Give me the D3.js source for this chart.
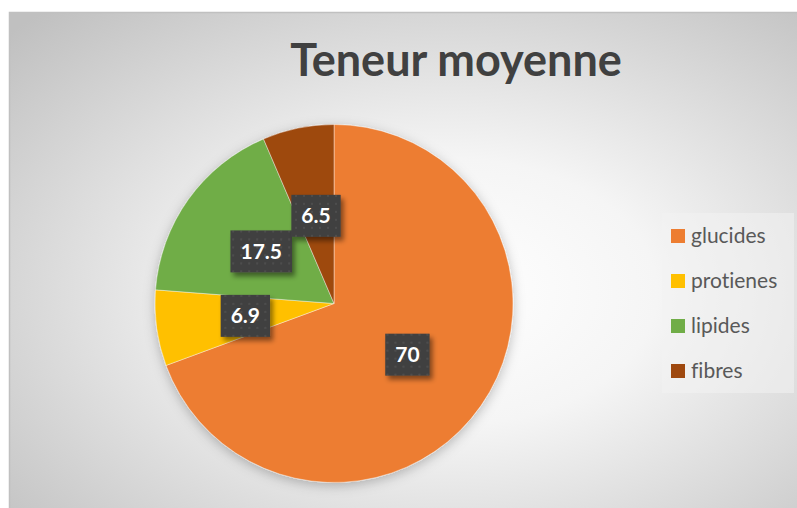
<!DOCTYPE html>
<html>
<head>
<meta charset="utf-8">
<script src="https://cdn.jsdelivr.net/npm/d3@7"></script>
<style>
  html, body { margin: 0; padding: 0; background: #fff; }
  svg { display: block; font-family: Lato, "Open Sans", sans-serif; font-variant-ligatures: none; }
</style>
</head>
<body>
<svg id="chart" width="797" height="508"></svg>
<script>
// chart data
const categories = ["glucides", "protienes", "lipides", "fibres"];
const values = [70, 6.9, 17.5, 6.5];
const colors = ["#ED7D31", "#FFC000", "#70AD47", "#9E480E"];
const title = "Teneur moyenne";

const svg = d3.select("#chart");
const width = 797, height = 508;
const cx = 334, cy = 303.5, radius = 179;

const defs = svg.append("defs");

// background radial gradient
const bg = defs.append("radialGradient")
  .attr("id", "bgGrad")
  .attr("cx", "55%").attr("cy", "55%").attr("r", "75%");
bg.append("stop").attr("offset", "0%").attr("stop-color", "#ffffff");
bg.append("stop").attr("offset", "35%").attr("stop-color", "#f5f5f5");
bg.append("stop").attr("offset", "100%").attr("stop-color", "#c0c0c0");

// pie shadow
const pieShadow = defs.append("filter").attr("id", "pieShadow")
  .attr("x", "-20%").attr("y", "-20%").attr("width", "140%").attr("height", "140%");
pieShadow.append("feDropShadow")
  .attr("dx", 0).attr("dy", 3).attr("stdDeviation", 6)
  .attr("flood-color", "#000").attr("flood-opacity", 0.25);

// label shadow
const labelShadow = defs.append("filter").attr("id", "labelShadow")
  .attr("x", "-30%").attr("y", "-30%").attr("width", "160%").attr("height", "160%");
labelShadow.append("feDropShadow")
  .attr("dx", 3).attr("dy", 4).attr("stdDeviation", 2.5)
  .attr("flood-color", "#000").attr("flood-opacity", 0.45);

// dotted texture for the label boxes
const dots = defs.append("pattern")
  .attr("id", "dots")
  .attr("patternUnits", "userSpaceOnUse")
  .attr("width", 8).attr("height", 8);
dots.append("rect").attr("width", 8).attr("height", 8).attr("fill", "#404040");
dots.append("rect").attr("x", 3).attr("y", 3).attr("width", 2).attr("height", 2).attr("fill", "#4e4e4e");

// chart area
svg.append("rect")
  .attr("x", 9.5).attr("y", 12.5)
  .attr("width", width).attr("height", height)
  .attr("fill", "url(#bgGrad)")
  .attr("stroke", "#c0c0c0")
  .attr("stroke-width", 1.5);

// title
svg.append("text")
  .attr("x", 456).attr("y", 76)
  .attr("text-anchor", "middle")
  .attr("font-size", 45)
  .attr("font-weight", "bold")
  .attr("fill", "#404040")
  .text(title);

// pie
const data = categories.map((c, i) => ({ category: c, value: values[i], color: colors[i] }));
const pie = d3.pie().sort(null).value(d => d.value);
const arc = d3.arc().innerRadius(0).outerRadius(radius);
const arcs = pie(data);

const pieG = svg.append("g")
  .attr("transform", `translate(${cx},${cy})`);

pieG.append("g")
  .attr("filter", "url(#pieShadow)")
  .selectAll("path")
  .data(arcs)
  .enter().append("path")
    .attr("d", arc)
    .attr("fill", d => d.data.color)
    .attr("stroke", "#ffffff")
    .attr("stroke-opacity", 0.5)
    .attr("stroke-width", 0.8);

// data labels
const labels = pieG.selectAll(".data-label")
  .data(arcs)
  .enter().append("g")
    .attr("class", "data-label")
    .attr("transform", d => `translate(${arc.centroid(d)})`);

labels.each(function(d) {
  const g = d3.select(this);
  const t = g.append("text")
    .attr("text-anchor", "middle")
    .attr("dy", "0.36em")
    .attr("font-size", 21)
    .attr("font-weight", "bold")
    .attr("fill", "#ffffff")
    .text(d.data.value);
  const w = t.node().getComputedTextLength() + 20;
  const h = 42;
  g.insert("rect", "text")
    .attr("x", -w / 2).attr("y", -h / 2)
    .attr("width", w).attr("height", h)
    .attr("fill", "url(#dots)")
    .attr("filter", "url(#labelShadow)");
});

// legend
const legend = svg.append("g");
legend.append("rect")
  .attr("x", 662).attr("y", 213)
  .attr("width", 132).attr("height", 180)
  .attr("fill", "#f2f2f2")
  .attr("fill-opacity", 0.55);

const legendY = d3.scalePoint()
  .domain(categories)
  .range([236, 371]);

const items = legend.selectAll(".legend-item")
  .data(data)
  .enter().append("g")
    .attr("class", "legend-item")
    .attr("transform", d => `translate(671,${legendY(d.category)})`);

items.append("rect")
  .attr("x", 0).attr("y", -7)
  .attr("width", 14).attr("height", 14)
  .attr("fill", d => d.color);

items.append("text")
  .attr("x", 20).attr("dy", "0.35em")
  .attr("font-size", 21)
  .attr("fill", "#595959")
  .text(d => d.category);
</script>
</body>
</html>
